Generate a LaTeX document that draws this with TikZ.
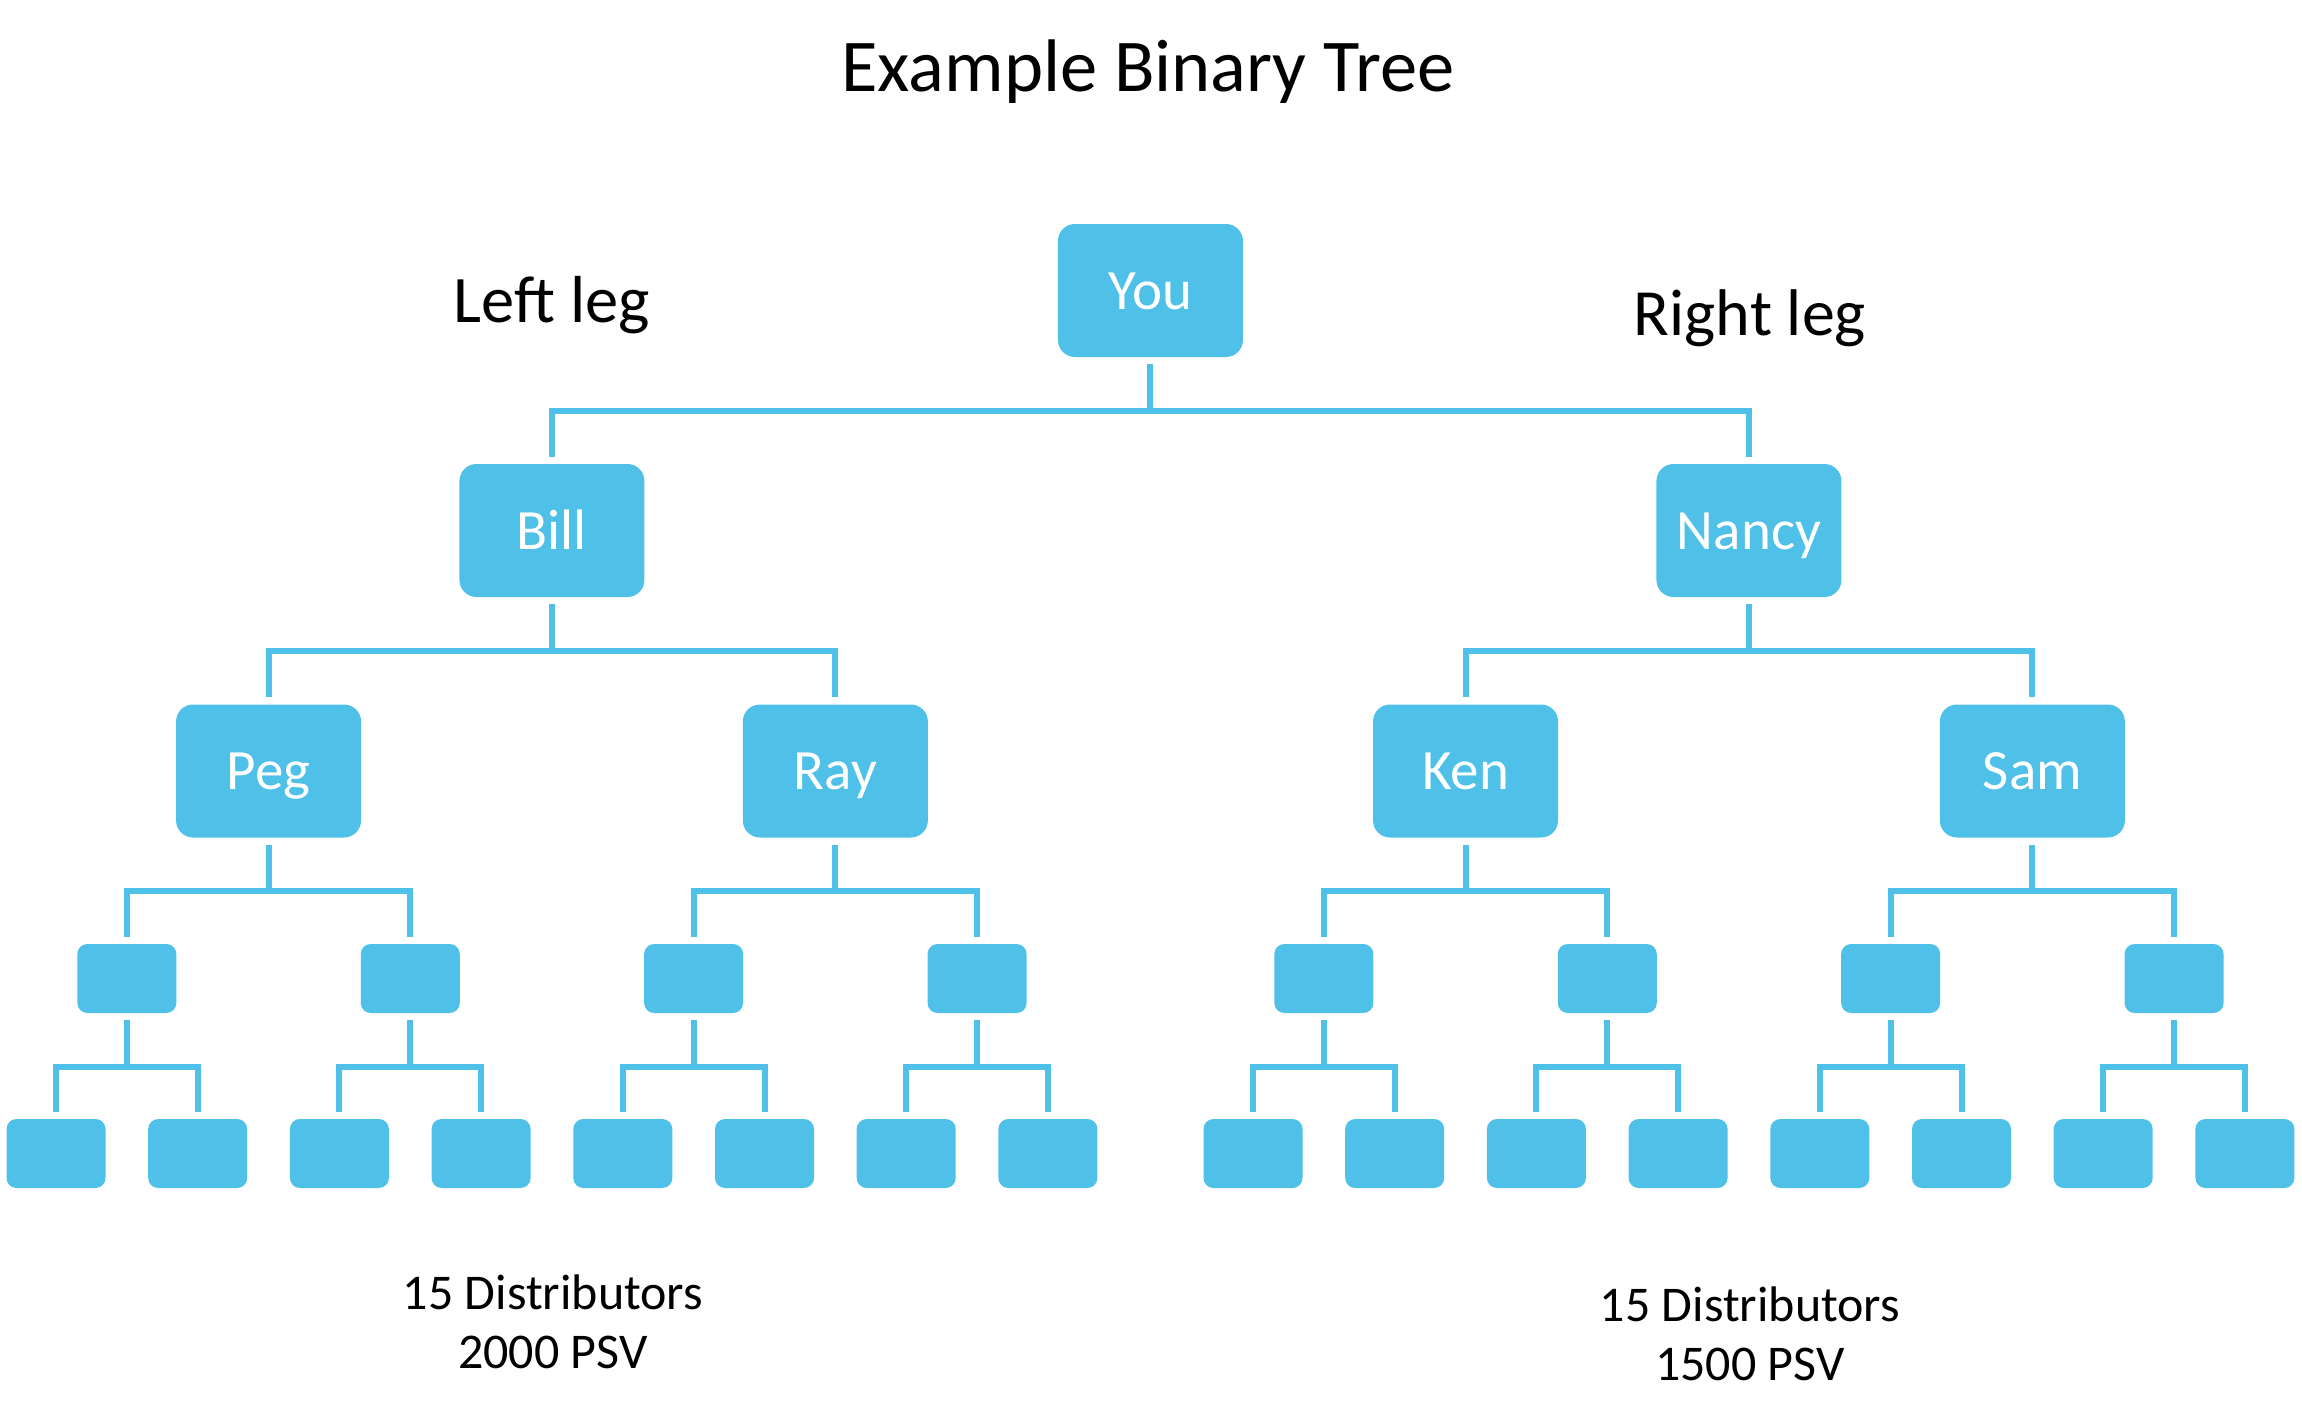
\documentclass[tikz,border=0pt]{standalone}
\usepackage{fontspec}
\setmainfont{Carlito}
\definecolor{boxblue}{RGB}{79,192,232}
\begin{document}
\begin{tikzpicture}[x=1pt,y=-1pt,
  big/.style={fill=boxblue, rounded corners=17pt, minimum width=185pt, minimum height=133pt,
    inner sep=0pt, text=white, font=\fontsize{57}{68}\selectfont, text height=37pt, text depth=0pt},
  small/.style={fill=boxblue, rounded corners=10pt, minimum width=99pt, minimum height=69pt, inner sep=0pt},
  conn/.style={draw=boxblue, line width=6pt, shorten <=7pt, shorten >=7pt},
  label/.style={anchor=base, inner sep=0pt, text=black}]
\useasboundingbox (0,0) rectangle (2302,1426);

% texts
\node[label, font=\fontsize{74.5}{88}\selectfont] (title) at (1148,92) {Example Binary Tree};
\node[label, font=\fontsize{66.5}{78}\selectfont] (leftleg) at (552,322) {Left leg};
\node[label, font=\fontsize{66}{78}\selectfont] (rightleg) at (1750,335) {Right leg};
\node[label, align=center, font=\fontsize{50}{59}\selectfont] (lsum) at (553,1368) {15 Distributors\\2000 PSV};
\node[label, align=center, font=\fontsize{50}{59}\selectfont] (rsum) at (1750,1380) {15 Distributors\\1500 PSV};

% big boxes
\node[big] (you) at (1150.45,290.5) {You};
\node[big] (bill) at (551.95,530.5) {Bill};
\node[big] (nancy) at (1748.95,530.5) {Nancy};
\node[big] (peg) at (268.55,771) {Peg};
\node[big] (ray) at (835.35,771) {Ray};
\node[big] (ken) at (1465.55,771) {Ken};
\node[big] (sam) at (2032.35,771) {Sam};

% level 3
\foreach \i/\x in {1/126.85,2/410.25,3/693.65,4/977.05,5/1323.85,6/1607.25,7/1890.65,8/2174.05}
  \node[small] (t\i) at (\x,978.5) {};
% leaves
\foreach \i/\x in {1/56,2/197.7,3/339.4,4/481.1,5/622.8,6/764.5,7/906.2,8/1047.9,
  9/1253,10/1394.7,11/1536.4,12/1678.1,13/1819.8,14/1961.5,15/2103.2,16/2244.9}
  \node[small] (f\i) at (\x,1153.5) {};

% connectors
\foreach \p/\c in {you/bill,you/nancy,bill/peg,bill/ray,nancy/ken,nancy/sam,
  peg/t1,peg/t2,ray/t3,ray/t4,ken/t5,ken/t6,sam/t7,sam/t8,
  t1/f1,t1/f2,t2/f3,t2/f4,t3/f5,t3/f6,t4/f7,t4/f8,
  t5/f9,t5/f10,t6/f11,t6/f12,t7/f13,t7/f14,t8/f15,t8/f16}
  \draw[conn] (\p.south) -- ++(0,53.5) -| (\c.north);
\end{tikzpicture}
\end{document}
